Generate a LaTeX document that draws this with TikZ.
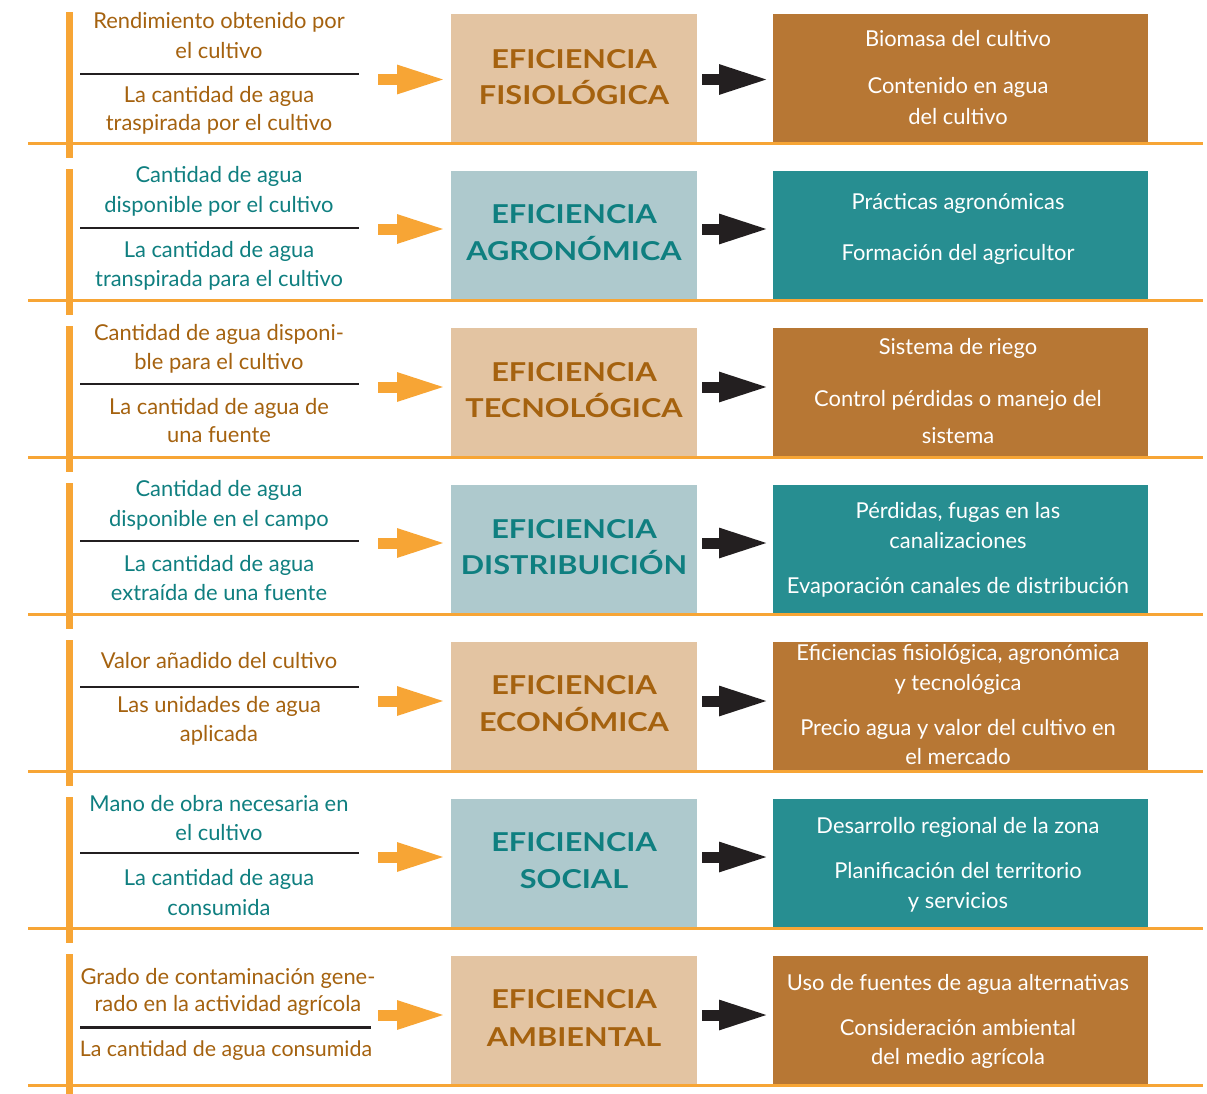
\documentclass[tikz,border=0pt]{standalone}
\usepackage{fontspec}
\setmainfont{Lato}
\newfontfamily\headfont{Lato}[FakeStretch=1.18]
\usetikzlibrary{arrows.meta}

\definecolor{orng}{HTML}{F7A535}
\definecolor{tanbox}{HTML}{E3C4A2}
\definecolor{bluebox}{HTML}{AEC9CD}
\definecolor{brownbox}{HTML}{B77734}
\definecolor{tealbox}{HTML}{278E91}
\definecolor{txtbrown}{HTML}{A5620F}
\definecolor{txtteal}{HTML}{0F7F80}
\definecolor{inkblack}{HTML}{231F20}

\tikzset{
  body/.style={font=\fontsize{21.9}{29}\selectfont, anchor=base, inner sep=0pt},
  lbrown/.style={body, text=txtbrown},
  lteal/.style={body, text=txtteal},
  rtext/.style={body, text=white},
  headb/.style={font=\headfont\bfseries\fontsize{26}{36}\selectfont, anchor=base, inner sep=0pt, text=txtbrown},
  headt/.style={headb, text=txtteal},
  midbox/.style={minimum width=246pt, minimum height=129.5pt, inner sep=0pt, outer sep=0pt, anchor=north},
  outbox/.style={minimum width=375pt, minimum height=129.5pt, inner sep=0pt, outer sep=0pt, anchor=north},
  fracline/.style={draw=inkblack, line width=2.6pt},
  rowbar/.style={fill=orng},
  rowline/.style={draw=orng, line width=2.5pt},
  inarrow/.style={draw=orng, line width=11pt, -{Triangle[length=50pt,width=26pt]}, shorten >=4pt},
  outarrow/.style={draw=inkblack, line width=11pt, -{Triangle[length=51pt,width=27pt]}, shorten <=5pt, shorten >=3pt},
}

\begin{document}
\begin{tikzpicture}[x=1pt,y=-1pt]
\useasboundingbox (0,0) rectangle (1207,1093);
\fill[white] (0,0) rectangle (1207,1093);

% vertical bars on the left of every row
\foreach \T in {14,171,328,485,642,799,956}
  \fill[rowbar] (65.5,\T-2) rectangle (72.5,\T+144);

% boxes
\node[midbox, fill=tanbox]   (r1mid) at (574,14)  {};
\node[outbox, fill=brownbox] (r1out) at (960.5,14) {};
\node[midbox, fill=bluebox]  (r2mid) at (574,171) {};
\node[outbox, fill=tealbox]  (r2out) at (960.5,171) {};
\node[midbox, fill=tanbox]   (r3mid) at (574,328) {};
\node[outbox, fill=brownbox] (r3out) at (960.5,328) {};
\node[midbox, fill=bluebox]  (r4mid) at (574,485) {};
\node[outbox, fill=tealbox]  (r4out) at (960.5,485) {};
\node[midbox, fill=tanbox]   (r5mid) at (574,642) {};
\node[outbox, fill=brownbox] (r5out) at (960.5,642) {};
\node[midbox, fill=bluebox]  (r6mid) at (574,799) {};
\node[outbox, fill=tealbox]  (r6out) at (960.5,799) {};
\node[midbox, fill=tanbox]   (r7mid) at (574,956) {};
\node[outbox, fill=brownbox] (r7out) at (960.5,956) {};

% horizontal rules under every row
\foreach \T in {14,171,328,485,642,799,956}
  \draw[rowline] (28,\T+129.5) -- (1203,\T+129.5);

% ---- row 1: fisiologica
\node[lbrown] (r1n1) at (219,28) {Rendimiento obtenido por};
\node[lbrown] (r1n2) at (219,58) {el cultivo};
\coordinate (r1fa) at (80,74); \coordinate (r1fb) at (359,74);
\draw[fracline] (r1fa) -- (r1fb);
\node[lbrown] (r1d1) at (219,102) {La cantidad de agua};
\node[lbrown] (r1d2) at (219,130.5) {traspirada por el cultivo};
\node[headb] (r1h1) at (574,68.3) {EFICIENCIA};
\node[headb] (r1h2) at (574,104.3) {FISIOLÓGICA};
\node[rtext] (r1o1) at (958,46) {Biomasa del cultivo};
\node[rtext] (r1o2) at (958,93) {Contenido en agua};
\node[rtext] (r1o3) at (958,124) {del cultivo};
\coordinate (r1a) at (378,79.5);
\draw[inarrow] (r1a) -- (r1a -| r1mid.west);
\draw[outarrow] (r1a -| r1mid.east) -- (r1a -| r1out.west);

% ---- row 2: agronomica
\node[lteal] (r2n1) at (219,182) {Cantidad de agua};
\node[lteal] (r2n2) at (219,212) {disponible por el cultivo};
\coordinate (r2fa) at (80,228); \coordinate (r2fb) at (359,228);
\draw[fracline] (r2fa) -- (r2fb);
\node[lteal] (r2d1) at (219,257) {La cantidad de agua};
\node[lteal] (r2d2) at (219,286) {transpirada para el cultivo};
\node[headt] (r2h1) at (574,223) {EFICIENCIA};
\node[headt] (r2h2) at (574,260) {AGRONÓMICA};
\node[rtext] (r2o1) at (958,209) {Prácticas agronómicas};
\node[rtext] (r2o2) at (958,260.7) {Formación del agricultor};
\coordinate (r2a) at (378,229);
\draw[inarrow] (r2a) -- (r2a -| r2mid.west);
\draw[outarrow] (r2a -| r2mid.east) -- (r2a -| r2out.west);

% ---- row 3: tecnologica
\node[lbrown] (r3n1) at (219,340) {Cantidad de agua disponi-};
\node[lbrown] (r3n2) at (219,369) {ble para el cultivo};
\coordinate (r3fa) at (80,384); \coordinate (r3fb) at (359,384);
\draw[fracline] (r3fa) -- (r3fb);
\node[lbrown] (r3d1) at (219,414) {La cantidad de agua de};
\node[lbrown] (r3d2) at (219,442.7) {una fuente};
\node[headb] (r3h1) at (574,381) {EFICIENCIA};
\node[headb] (r3h2) at (574,417.5) {TECNOLÓGICA};
\node[rtext] (r3o1) at (958,354) {Sistema de riego};
\node[rtext] (r3o2) at (958,406) {Control pérdidas o manejo del};
\node[rtext] (r3o3) at (958,443) {sistema};
\coordinate (r3a) at (378,387);
\draw[inarrow] (r3a) -- (r3a -| r3mid.west);
\draw[outarrow] (r3a -| r3mid.east) -- (r3a -| r3out.west);

% ---- row 4: distribucion
\node[lteal] (r4n1) at (219,496) {Cantidad de agua};
\node[lteal] (r4n2) at (219,526) {disponible en el campo};
\coordinate (r4fa) at (80,541); \coordinate (r4fb) at (359,541);
\draw[fracline] (r4fa) -- (r4fb);
\node[lteal] (r4d1) at (219,571) {La cantidad de agua};
\node[lteal] (r4d2) at (219,600) {extraída de una fuente};
\node[headt] (r4h1) at (574,538.3) {EFICIENCIA};
\node[headt] (r4h2) at (574,574.3) {DISTRIBUICIÓN};
\node[rtext] (r4o1) at (958,518) {Pérdidas, fugas en las};
\node[rtext] (r4o2) at (958,548) {canalizaciones};
\node[rtext] (r4o3) at (958,593) {Evaporación canales de distribución};
\coordinate (r4a) at (378,543);
\draw[inarrow] (r4a) -- (r4a -| r4mid.west);
\draw[outarrow] (r4a -| r4mid.east) -- (r4a -| r4out.west);

% ---- row 5: economica
\node[lbrown] (r5n1) at (219,668.3) {Valor añadido del cultivo};
\coordinate (r5fa) at (80,687); \coordinate (r5fb) at (359,687);
\draw[fracline] (r5fa) -- (r5fb);
\node[lbrown] (r5d1) at (219,712.7) {Las unidades de agua};
\node[lbrown] (r5d2) at (219,741.7) {aplicada};
\node[headb] (r5h1) at (574,694.5) {EFICIENCIA};
\node[headb] (r5h2) at (574,731.5) {ECONÓMICA};
\node[rtext] (r5o1) at (958,660.7) {Eficiencias fisiológica, agronómica};
\node[rtext] (r5o2) at (958,690) {y tecnológica};
\node[rtext] (r5o3) at (958,735) {Precio agua y valor del cultivo en};
\node[rtext] (r5o4) at (958,764.3) {el mercado};
\coordinate (r5a) at (378,701);
\draw[inarrow] (r5a) -- (r5a -| r5mid.west);
\draw[outarrow] (r5a -| r5mid.east) -- (r5a -| r5out.west);

% ---- row 6: social
\node[lteal] (r6n1) at (219,811) {Mano de obra necesaria en};
\node[lteal] (r6n2) at (219,840) {el cultivo};
\coordinate (r6fa) at (80,853); \coordinate (r6fb) at (359,853);
\draw[fracline] (r6fa) -- (r6fb);
\node[lteal] (r6d1) at (219,885) {La cantidad de agua};
\node[lteal] (r6d2) at (219,915) {consumida};
\node[headt] (r6h1) at (574,851.5) {EFICIENCIA};
\node[headt] (r6h2) at (574,888.5) {SOCIAL};
\node[rtext] (r6o1) at (958,833) {Desarrollo regional de la zona};
\node[rtext] (r6o2) at (958,878) {Planificación del territorio};
\node[rtext] (r6o3) at (958,908) {y servicios};
\coordinate (r6a) at (378,857);
\draw[inarrow] (r6a) -- (r6a -| r6mid.west);
\draw[outarrow] (r6a -| r6mid.east) -- (r6a -| r6out.west);

% ---- row 7: ambiental
\node[lbrown] (r7n1) at (228,984) {Grado de contaminación gene-};
\node[lbrown] (r7n2) at (228,1011.7) {rado en la actividad agrícola};
\coordinate (r7fa) at (80,1027.7); \coordinate (r7fb) at (371,1027.7);
\draw[fracline] (r7fa) -- (r7fb);
\node[lbrown, font=\fontsize{21.4}{29}\selectfont] (r7d1) at (226,1056.7) {La cantidad de agua consumida};
\node[headb] (r7h1) at (574,1008.5) {EFICIENCIA};
\node[headb] (r7h2) at (574,1046.5) {AMBIENTAL};
\node[rtext] (r7o1) at (958,990) {Uso de fuentes de agua alternativas};
\node[rtext] (r7o2) at (958,1035) {Consideración ambiental};
\node[rtext] (r7o3) at (958,1064) {del medio agrícola};
\coordinate (r7a) at (378,1015);
\draw[inarrow] (r7a) -- (r7a -| r7mid.west);
\draw[outarrow] (r7a -| r7mid.east) -- (r7a -| r7out.west);
\end{tikzpicture}
\end{document}
